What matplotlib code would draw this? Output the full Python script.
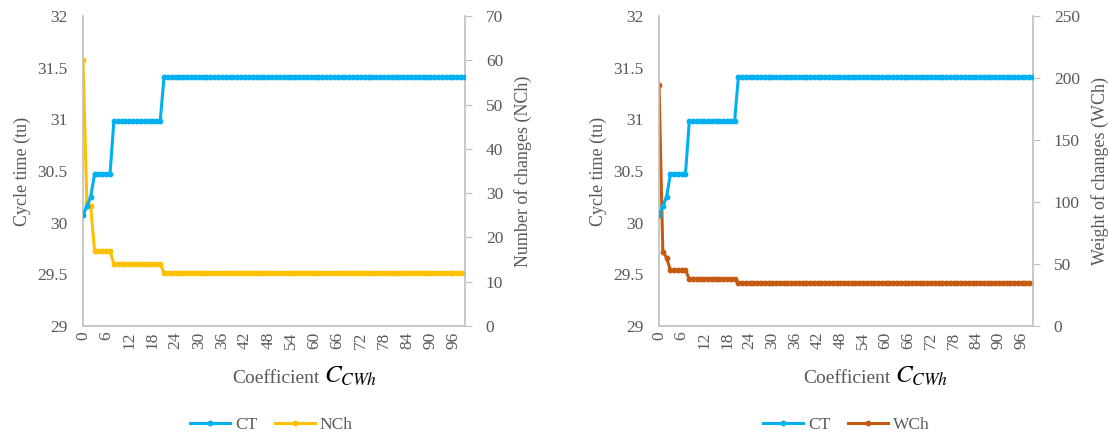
import numpy as np
import matplotlib
matplotlib.use('Agg')
import matplotlib.pyplot as plt

# coefficient values 0..99 (category axis)
coef = list(range(100))

# cycle time, same for both charts
ct = [30.07, 30.16, 30.25] + [30.47] * 5 + [30.98] * 13 + [31.41] * 79
# number of changes
nch = [60, 28, 27] + [17] * 5 + [14] * 13 + [12] * 79
# weight of changes
wch = [194, 60, 55] + [45] * 5 + [38] * 13 + [35] * 79

tick_labels = [str(v) for v in range(0, 100, 6)]

c_ct = '#00B0F0'
c_nch = '#FFC000'
c_wch = '#C55A11'
grey = '#595959'
axis_col = '#BFBFBF'

plt.rcParams['font.family'] = ['Liberation Serif', 'DejaVu Serif']
plt.rcParams['mathtext.fontset'] = 'stix'
plt.rcParams['font.size'] = 12.5

fig = plt.figure(figsize=(11.08, 4.36), dpi=100)

def panel(rect, y2, c2, name2, label2, ymax2, step2, legend_x):
    ax = fig.add_axes(rect)
    ax2 = ax.twinx()
    l1, = ax.plot(coef, ct, color=c_ct, lw=2.2, marker='o', ms=3.2, label='CT', zorder=3)
    l2, = ax2.plot(coef, y2, color=c2, lw=2.2, marker='o', ms=3.2, label=name2)
    ax.set_zorder(ax2.get_zorder() + 1)
    ax.patch.set_visible(False)

    ax.set_xlim(0, 99)
    ax.set_ylim(29, 32)
    ax.set_yticks(np.arange(29, 32.01, 0.5))
    ax.set_yticklabels(['29', '29.5', '30', '30.5', '31', '31.5', '32'])
    ax2.set_ylim(0, ymax2)
    ax2.set_yticks(np.arange(0, ymax2 + 1, step2))

    ax.set_xticks(range(0, 100, 6))
    ax.set_xticklabels(tick_labels, rotation=90)

    for a in (ax, ax2):
        for s in a.spines.values():
            s.set_visible(False)
    ax.spines['left'].set_visible(True)
    ax.spines['bottom'].set_visible(True)
    ax2.spines['right'].set_visible(True)
    for s in (ax.spines['left'], ax.spines['bottom'], ax2.spines['right']):
        s.set_color(axis_col)
        s.set_linewidth(1.2)

    ax.tick_params(axis='y', length=0, pad=11, colors=grey)
    ax.tick_params(axis='x', length=0, pad=4, colors=grey)
    ax2.tick_params(axis='y', length=5, color=axis_col, pad=10, labelcolor=grey)

    ax.set_ylabel('Cycle time (tu)', color=grey, fontsize=13, labelpad=5)
    ax2.set_ylabel(label2, color=grey, fontsize=13, labelpad=8)
    # x label: grey word + black math symbol
    ax.text(0.62, -0.184, 'Coefficient', transform=ax.transAxes, ha='right',
            va='baseline', color=grey, fontsize=14)
    ax.text(0.632, -0.184, '$\\mathit{C_{CWh}}$', transform=ax.transAxes, ha='left',
            va='baseline', color='black', fontsize=18)

    fig.legend(handles=[l1, l2], loc='center', bbox_to_anchor=(legend_x, 0.026),
               ncol=2, frameon=False, handlelength=2.3, columnspacing=1.0,
               handletextpad=0.3, labelcolor=grey, fontsize=12.5)
    return ax, ax2

panel([0.0749, 0.2523, 0.3448, 0.711], nch, c_nch, 'NCh', 'Number of changes (NCh)', 70, 10, 0.245)
panel([0.5948, 0.2523, 0.3375, 0.711], wch, c_wch, 'WCh', 'Weight of changes (WCh)', 250, 50, 0.764)

fig.savefig('out.png', dpi=100)
